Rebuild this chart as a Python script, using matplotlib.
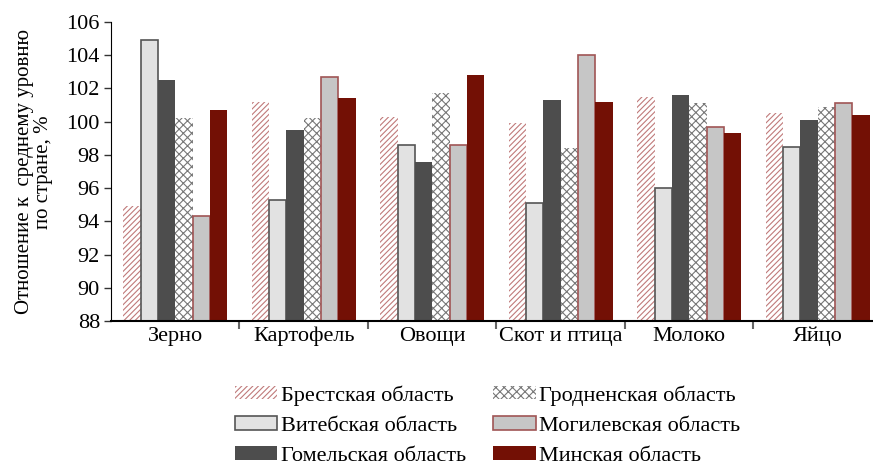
import numpy as np
import matplotlib
matplotlib.use("Agg")
import matplotlib.pyplot as plt

plt.rcParams['font.family'] = ['Liberation Serif', 'DejaVu Serif']
plt.rcParams['hatch.linewidth'] = 0.8

categories = ['Зерно', 'Картофель', 'Овощи', 'Скот и птица', 'Молоко', 'Яйцо']
regions = ['Брестская область', 'Витебская область', 'Гомельская область',
           'Гродненская область', 'Могилевская область', 'Минская область']

brest = [94.9, 101.2, 100.3, 99.9, 101.5, 100.5]
vitebsk = [104.9, 95.3, 98.6, 95.1, 96.0, 98.5]
gomel = [102.5, 99.5, 97.6, 101.3, 101.6, 100.1]
grodno = [100.2, 100.2, 101.7, 98.4, 101.1, 100.9]
mogilev = [94.3, 102.7, 98.6, 104.0, 99.7, 101.1]
minsk = [100.7, 101.4, 102.8, 101.2, 99.3, 100.4]

series = [brest, vitebsk, gomel, grodno, mogilev, minsk]
styles = [
    dict(facecolor='white', edgecolor='#c07a7a', hatch='//////', linewidth=0),
    dict(facecolor='#e2e2e2', edgecolor='#555555', linewidth=1.2),
    dict(facecolor='#4d4d4d', edgecolor='#4d4d4d', linewidth=0),
    dict(facecolor='white', edgecolor='#777777', hatch='xxxx', linewidth=0),
    dict(facecolor='#c6c6c6', edgecolor='#a05555', linewidth=1.2),
    dict(facecolor='#731005', edgecolor='#731005', linewidth=0),
]

fig = plt.figure(figsize=(8.73, 4.67), dpi=100)
ax = fig.add_axes([111 / 873, 1 - 321 / 467, 1 - 111 / 873, 299 / 467])

x = np.arange(len(categories))
w = 0.135
for i, (vals, st) in enumerate(zip(series, styles)):
    ax.bar(x + (i - 2.5) * w, np.array(vals) - 88, bottom=88, width=w,
           label=regions[i], **st)

ax.set_ylim(88, 106)
ax.set_yticks(np.arange(88, 107, 2))
ax.set_xlim(-0.5, 5.43)
ax.set_xticks(x)
ax.set_xticklabels(categories, fontsize=16)
ax.set_xticks(np.arange(0.5, 5.5, 1), minor=True)
ax.tick_params(axis='x', which='major', length=0, pad=4)
ax.tick_params(axis='x', which='minor', length=6, color='#666666', width=1.5)
ax.tick_params(axis='y', labelsize=16, length=5, color='#333333', width=1, pad=3)

ax.spines['top'].set_visible(False)
ax.spines['right'].set_visible(False)
ax.spines['bottom'].set_linewidth(1.5)

fig.text(0.039, 0.632, 'Отношение к  среднему уровню\nпо стране, %', rotation=90,
         ha='center', va='center', fontsize=15, linespacing=1.0)

fig.legend(loc='upper left', bbox_to_anchor=(235 / 873, 1 - 385 / 467), ncol=2,
           frameon=False, fontsize=16, handlelength=1.9, handleheight=0.55,
           handletextpad=0.15, columnspacing=1.25, labelspacing=0.48,
           borderpad=0, borderaxespad=0)

fig.savefig('out.png', dpi=100)
